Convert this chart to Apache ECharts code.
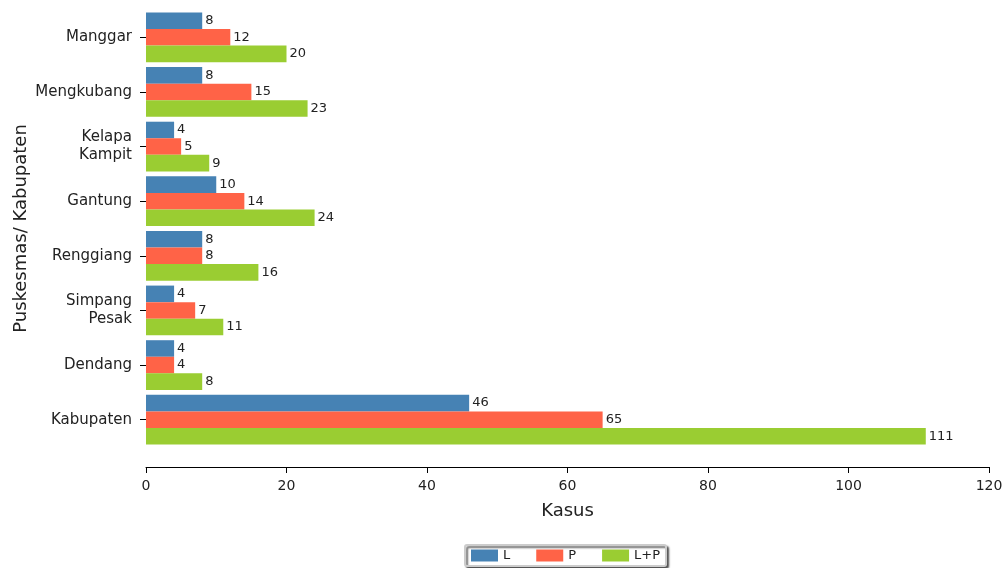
<!DOCTYPE html>
<html>
<head>
<meta charset="utf-8">
<script src="https://cdn.jsdelivr.net/npm/echarts@6/dist/echarts.min.js"></script>
<style>
html,body{margin:0;padding:0;background:#fff;}
#chart{width:1006px;height:568px;}
</style>
</head>
<body>
<div id="chart"></div>
<script>
var categories = ['Manggar', 'Mengkubang', 'Kelapa\nKampit', 'Gantung', 'Renggiang', 'Simpang\nPesak', 'Dendang', 'Kabupaten'];
var seriesNames = ['L', 'P', 'L+P'];
var valuesL = [8, 8, 4, 10, 8, 4, 4, 46];
var valuesP = [12, 15, 5, 14, 8, 7, 4, 65];
var valuesLP = [20, 23, 9, 24, 16, 11, 8, 111];
var colors = ['#4682B4', '#FF6347', '#9ACD32'];
var xTicks = [0, 20, 40, 60, 80, 100, 120];

var font = 'DejaVu Sans';
var chart = echarts.init(document.getElementById('chart'), null, {renderer: 'canvas'});
function mk(name, data, color) {
  return {
    name: name, type: 'bar', data: data,
    barGap: '0%', barCategoryGap: '9%',
    itemStyle: {color: color},
    label: {show: true, position: 'right', distance: 3, color: '#222', fontSize: 13, fontFamily: font},
    animation: false
  };
}
chart.setOption({
  animation: false,
  textStyle: {fontFamily: font},
  grid: {left: 146, right: 17, top: 10, bottom: 121, containLabel: false, outerBoundsMode: 'none'},
  legend: {
    data: seriesNames, left: 465, top: 545, orient: 'horizontal',
    itemWidth: 27, itemHeight: 12, itemGap: 26,
    padding: [4, 6, 4, 6],
    borderColor: '#ccc', borderWidth: 2, borderRadius: 2,
    backgroundColor: '#fff',
    shadowColor: 'rgba(0,0,0,0.6)', shadowBlur: 2, shadowOffsetX: 2, shadowOffsetY: 2,
    textStyle: {fontSize: 13, color: '#222', fontFamily: font},
    icon: 'rect'
  },
  xAxis: {
    type: 'value', min: xTicks[0], max: xTicks[xTicks.length - 1], interval: 20,
    offset: 20,
    name: 'Kasus', nameLocation: 'middle', nameGap: 35, nameMoveOverlap: false,
    nameTextStyle: {fontSize: 18, color: '#222', fontFamily: font},
    axisLine: {show: true, lineStyle: {color: '#000', width: 1}},
    axisTick: {show: true, length: 6, lineStyle: {color: '#000'}},
    axisLabel: {fontSize: 14, color: '#222', margin: 12, fontFamily: font},
    splitLine: {show: false}
  },
  yAxis: {
    type: 'category', data: categories, inverse: true,
    name: 'Puskesmas/ Kabupaten', nameLocation: 'middle', nameGap: 116, nameRotate: 90, nameMoveOverlap: false,
    nameTextStyle: {fontSize: 18, color: '#222', fontFamily: font},
    axisLine: {show: false},
    axisTick: {show: true, alignWithLabel: true, length: 6, lineStyle: {color: '#000'}},
    axisLabel: {fontSize: 15, color: '#222', margin: 14, fontFamily: font, lineHeight: 18},
    splitLine: {show: false}
  },
  series: [mk(seriesNames[0], valuesL, colors[0]), mk(seriesNames[1], valuesP, colors[1]), mk(seriesNames[2], valuesLP, colors[2])]
});
</script>
</body>
</html>
